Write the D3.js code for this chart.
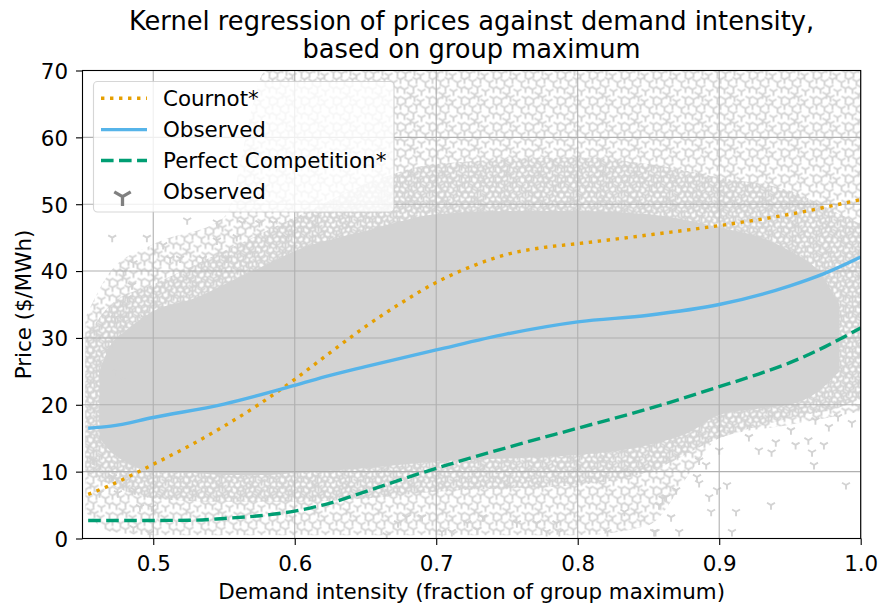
<!DOCTYPE html>
<html>
<head>
<meta charset="utf-8">
<script src="https://cdn.jsdelivr.net/npm/d3@7"></script>
<style>
  html, body { margin: 0; padding: 0; background: #fff; }
  svg { display: block; font-family: "DejaVu Sans", sans-serif; }
</style>
</head>
<body>
<svg id="chart" width="881" height="605"></svg>
<script>
// ---------------- data ----------------
const xTicks = [0.5, 0.6, 0.7, 0.8, 0.9, 1.0];
const xTickLabels = ["0.5", "0.6", "0.7", "0.8", "0.9", "1.0"];
const yTicks = [0, 10, 20, 30, 40, 50, 60, 70];
const yTickLabels = ["0", "10", "20", "30", "40", "50", "60", "70"];

// Cournot* (kernel regression)
const cournotX = [0.454, 0.47, 0.5, 0.525, 0.55, 0.575, 0.6, 0.625, 0.65, 0.675, 0.7, 0.725, 0.75, 0.775, 0.8, 0.85, 0.9, 0.95, 1.0];
const cournotY = [6.6, 8.0, 11.1, 13.8, 16.8, 20.1, 23.8, 27.8, 31.7, 35.2, 38.3, 40.7, 42.5, 43.5, 44.1, 45.4, 46.8, 48.5, 50.7];

// Observed (kernel regression)
const observedX = [0.454, 0.47, 0.5, 0.55, 0.6, 0.625, 0.65, 0.7, 0.75, 0.8, 0.85, 0.9, 0.95, 0.975, 1.0];
const observedY = [16.5, 16.8, 18.1, 20.1, 22.9, 24.4, 25.7, 28.2, 30.6, 32.4, 33.4, 35.0, 37.8, 39.7, 42.1];

// Perfect Competition* (kernel regression)
const pcX = [0.454, 0.5, 0.53, 0.55, 0.575, 0.6, 0.625, 0.65, 0.675, 0.7, 0.75, 0.8, 0.85, 0.9, 0.925, 0.95, 0.975, 1.0];
const pcY = [2.7, 2.7, 2.75, 3.0, 3.4, 4.1, 5.3, 7.0, 8.8, 10.5, 13.6, 16.5, 19.4, 22.7, 24.4, 26.3, 28.7, 31.5];

// Observed scatter: saturated core of the cloud (price bounds per demand level)
const coreX  = [0.462, 0.47, 0.48, 0.50, 0.53, 0.55, 0.58, 0.60, 0.65, 0.70, 0.75, 0.80, 0.85, 0.88, 0.90, 0.93, 0.95, 0.97, 0.985];
const coreLo = [15, 13, 11.5, 10, 9.8, 9.5, 9.5, 9.8, 10.5, 11.5, 12, 12.5, 14, 16, 18.5, 19.5, 20, 22, 25];
const coreHi = [25, 29, 31, 34, 36, 38, 41, 43, 46, 48.5, 49, 49, 48.5, 47.5, 46.5, 45, 43, 40, 35];

// Observed scatter: dense fringe of the cloud
const innerX  = [0.452, 0.47, 0.50, 0.55, 0.60, 0.65, 0.70, 0.80, 0.85, 0.90, 0.95, 0.99, 1.0];
const innerLo = [10, 8, 6, 5.5, 5.5, 6, 7, 8, 10, 15, 18, 20, 21];
const innerHi = [30, 35, 38, 43, 48, 53, 56, 57, 56, 54, 52, 48, 47];

// Observed scatter: sparse outer fringe of the cloud
const outerX  = [0.452, 0.47, 0.50, 0.55, 0.58, 0.60, 0.70, 0.80, 0.85, 0.88, 0.90, 0.95, 1.0];
const outerLo = [4, 1, 0.5, 0.5, 0.5, 0.5, 0.5, 0.5, 2, 10, 15, 17, 19];
const outerHi = [33, 40, 44, 48, 70, 70, 70, 70, 70, 70, 70, 70, 70];

// Observed scatter: individual outlying points [demand, price]
const outliers = [
  [0.8575, 5.0], [0.8625, 6.2], [0.8696, 7.25], [0.866, 3.2], [0.854, 1.0], [0.8717, 1.0],
  [0.8843, 9.2], [0.8858, 8.3], [0.8929, 6.2], [0.8943, 4.0], [0.8985, 7.25], [0.9055, 8.0],
  [0.9119, 4.0], [0.909, 1.0], [0.9366, 5.0], [0.9896, 8.0], [0.967, 11.0],
  [0.921, 15.2], [0.928, 13.2], [0.940, 14.4], [0.937, 12.9], [0.9507, 16.2], [0.954, 14.0],
  [0.963, 14.7], [0.9656, 12.9], [0.974, 14.0], [0.984, 18.2], [0.9938, 17.3], [0.9775, 16.7],
  [0.968, 17.7], [0.90, 13.2], [0.8908, 11.0], [0.8858, 11.7],
  [0.673, 2.3], [0.679, 3.2], [0.690, 3.2], [0.665, 0.5], [0.704, 1.0], [0.711, 1.0],
  [0.722, 2.3], [0.729, 1.3], [0.733, 3.2], [0.757, 2.3], [0.771, 2.3], [0.785, 2.3],
  [0.778, 1.0], [0.787, 1.0], [0.821, 1.0], [0.833, 4.0], [0.855, 1.0], [0.86, 6.0],
  [0.471, 45], [0.4955, 45], [0.486, 41.2], [0.479, 39.9], [0.485, 37.9], [0.482, 36],
  [0.473, 33], [0.479, 33], [0.494, 33], [0.4716, 29.2], [0.4673, 28.2], [0.4624, 24.9],
  [0.474, 24.9], [0.48, 23.7], [0.507, 43.9], [0.512, 41.9], [0.519, 41.9], [0.524, 47.6],
  [0.545, 47.3], [0.545, 44.6], [0.535, 41.9], [0.552, 41.9], [0.563, 47.2], [0.575, 47.2],
  [0.585, 47.2], [0.594, 45.1], [0.559, 45.1],
  [0.4575, 11.7], [0.4715, 9.2], [0.481, 8.7], [0.462, 6.8], [0.475, 6.8], [0.487, 7.25],
  [0.4906, 4.7], [0.486, 1.6], [0.4976, 0.8], [0.499, 4.7]
];

const legendLabels = ["Cournot*", "Observed", "Perfect Competition*", "Observed"];

// ---------------- drawing ----------------
const svg = d3.select("#chart");
const defs = svg.append("defs");
const pL = 82.5, pR = 860.7, pT = 70.5, pB = 538.5;
const FS = 21.4, TFS = 25.7;

const x = d3.scaleLinear().domain([0.45, 1.0]).range([pL, pR]);
const y = d3.scaleLinear().domain([0, 70]).range([pB, pT]);

const GREY = "#d3d3d3";
const tri = r => `M0,0L0,${r}M0,0L${-0.866 * r},${-0.5 * r}M0,0L${0.866 * r},${-0.5 * r}`;

defs.append("clipPath").attr("id", "plotclip")
  .append("rect").attr("x", pL).attr("y", pT)
  .attr("width", pR - pL).attr("height", pB - pT);

// marker texture used to fill the fringe bands of the point cloud (styling only)
function makePattern(id, w, h, pts) {
  const p = defs.append("pattern").attr("id", id)
    .attr("patternUnits", "userSpaceOnUse")
    .attr("x", pL).attr("y", pT)
    .attr("width", w).attr("height", h);
  pts.forEach(([px, py]) => {
    [-w, 0, w].forEach(dx => [-h, 0, h].forEach(dy => {
      p.append("path").attr("d", tri(4.6))
        .attr("transform", `translate(${px + dx},${py + dy})`)
        .attr("fill", "none").attr("stroke", GREY).attr("stroke-width", 1.9);
    }));
  });
}
makePattern("densePat", 24, 20, [[2, 2], [8, 3], [14, 1], [20, 3], [5, 7], [11, 8], [17, 6], [23, 8],
  [2, 12], [8, 13], [14, 11], [20, 13], [5, 17], [11, 18], [17, 16], [23, 18]]);
makePattern("sparsePat", 32, 26, [[3, 3], [12, 1], [18, 5], [27, 2], [6, 11], [14, 9], [23, 12], [30, 9],
  [2, 19], [11, 17], [19, 21], [27, 18], [8, 24]]);

const plot = svg.append("g").attr("clip-path", "url(#plotclip)");

function band(xs, lo, hi) {
  return d3.area().curve(d3.curveMonotoneX)
    .x((d, i) => x(xs[i])).y0((d, i) => y(lo[i])).y1((d, i) => y(hi[i]))(xs);
}
plot.append("path").attr("d", band(outerX, outerLo, outerHi)).attr("fill", "url(#sparsePat)");
plot.append("path").attr("d", band(innerX, innerLo, innerHi)).attr("fill", "url(#densePat)");
plot.append("path").attr("d", band(coreX, coreLo, coreHi)).attr("fill", GREY);

plot.selectAll("path.out").data(outliers).enter().append("path").attr("class", "out")
  .attr("d", tri(4.6))
  .attr("transform", d => `translate(${x(d[0])},${y(d[1])})`)
  .attr("fill", "none").attr("stroke", GREY).attr("stroke-width", 1.9);

// grid (above scatter, below lines)
const grid = svg.append("g");
xTicks.forEach(t => grid.append("line")
  .attr("x1", x(t)).attr("x2", x(t)).attr("y1", pT).attr("y2", pB)
  .attr("stroke", "#b0b0b0").attr("stroke-width", 1.1));
yTicks.forEach(t => grid.append("line")
  .attr("x1", pL).attr("x2", pR).attr("y1", y(t)).attr("y2", y(t))
  .attr("stroke", "#b0b0b0").attr("stroke-width", 1.1));

// curves
const lineGen = (xs, ys) => d3.line().curve(d3.curveMonotoneX)
  .x((d, i) => x(xs[i])).y((d, i) => y(ys[i]))(xs);
const LW = 3.4;
const lines = svg.append("g").attr("clip-path", "url(#plotclip)");
lines.append("path").attr("d", lineGen(cournotX, cournotY))
  .attr("fill", "none").attr("stroke", "#E69F00").attr("stroke-width", LW)
  .attr("stroke-dasharray", `${LW},${LW * 1.65}`);
lines.append("path").attr("d", lineGen(observedX, observedY))
  .attr("fill", "none").attr("stroke", "#56B4E9").attr("stroke-width", LW);
lines.append("path").attr("d", lineGen(pcX, pcY))
  .attr("fill", "none").attr("stroke", "#009E73").attr("stroke-width", LW)
  .attr("stroke-dasharray", `${LW * 3.7},${LW * 1.6}`);

// axes
const xAxis = d3.axisBottom(x).tickValues(xTicks).tickFormat((d, i) => xTickLabels[i])
  .tickSize(6.5).tickPadding(6);
const yAxis = d3.axisLeft(y).tickValues(yTicks).tickFormat((d, i) => yTickLabels[i])
  .tickSize(6.5).tickPadding(8);
const gx = svg.append("g").attr("transform", `translate(0,${pB})`).call(xAxis);
const gy = svg.append("g").attr("transform", `translate(${pL},0)`).call(yAxis);
[gx, gy].forEach(g => {
  g.select(".domain").remove();
  g.selectAll(".tick line").attr("stroke", "#000").attr("stroke-width", 1.1);
  g.selectAll(".tick text").attr("fill", "#000")
    .style("font-family", "DejaVu Sans").style("font-size", FS + "px");
});
gx.selectAll(".tick text").attr("dy", null).attr("y", 32);
gy.selectAll(".tick text").attr("dy", null).attr("y", 7.8);

// spines
svg.append("rect").attr("x", pL).attr("y", pT)
  .attr("width", pR - pL).attr("height", pB - pT)
  .attr("fill", "none").attr("stroke", "#000").attr("stroke-width", 1.1);

// titles
const title = svg.append("text").attr("text-anchor", "middle")
  .style("font-size", TFS + "px").attr("fill", "#000");
title.append("tspan").attr("x", (pL + pR) / 2).attr("y", 29.5)
  .text("Kernel regression of prices against demand intensity,");
title.append("tspan").attr("x", (pL + pR) / 2).attr("y", 57.5)
  .text("based on group maximum");

svg.append("text").attr("x", (pL + pR) / 2).attr("y", 598.5)
  .attr("text-anchor", "middle").style("font-size", FS + "px")
  .text("Demand intensity (fraction of group maximum)");
svg.append("text")
  .attr("transform", `translate(31,${(pT + pB) / 2}) rotate(-90)`)
  .attr("text-anchor", "middle").style("font-size", FS + "px")
  .text("Price ($/MWh)");

// legend
const lg = svg.append("g");
lg.append("rect").attr("x", 93.5).attr("y", 81.5).attr("width", 300.5).attr("height", 130.5)
  .attr("rx", 4).attr("fill", "#fff").attr("fill-opacity", 0.8)
  .attr("stroke", "#cccccc").attr("stroke-opacity", 0.8).attr("stroke-width", 1.1);
const rows = [98.3, 129.6, 160.5, 191.6];
const hx0 = 101, hx1 = 147;
lg.append("line").attr("x1", hx0).attr("x2", hx1).attr("y1", rows[0]).attr("y2", rows[0])
  .attr("stroke", "#E69F00").attr("stroke-width", LW).attr("stroke-dasharray", `${LW},${LW * 1.65}`);
lg.append("line").attr("x1", hx0).attr("x2", hx1).attr("y1", rows[1]).attr("y2", rows[1])
  .attr("stroke", "#56B4E9").attr("stroke-width", LW);
lg.append("line").attr("x1", hx0).attr("x2", hx1).attr("y1", rows[2]).attr("y2", rows[2])
  .attr("stroke", "#009E73").attr("stroke-width", LW).attr("stroke-dasharray", `${LW * 3.7},${LW * 1.6}`);
lg.append("path").attr("d", tri(9.5)).attr("transform", `translate(122.5,${rows[3] + 5})`)
  .attr("fill", "none").attr("stroke", "#808080").attr("stroke-width", 3.3);
legendLabels.forEach((t, i) => lg.append("text").attr("x", 163).attr("y", rows[i] + 7.8)
  .style("font-size", FS + "px").attr("fill", "#000").text(t));
</script>
</body>
</html>
